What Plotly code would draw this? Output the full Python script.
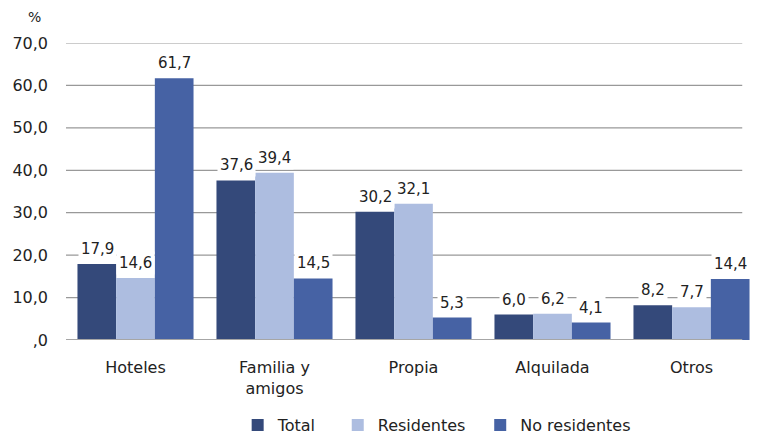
import plotly.graph_objects as go

# data
categorias = ["Hoteles", "Familia y<br>amigos", "Propia", "Alquilada", "Otros"]
total = [17.9, 37.6, 30.2, 6.0, 8.2]
residentes = [14.6, 39.4, 32.1, 6.2, 7.7]
no_residentes = [61.7, 14.5, 5.3, 4.1, 14.4]
y_ticks = [0, 10, 20, 30, 40, 50, 60, 70]
y_ticktext = [",0", "10,0", "20,0", "30,0", "40,0", "50,0", "60,0", "70,0"]

COLORS = {
    'Total': '#34497a',
    'Residentes': '#adbde0',
    'No residentes': '#4662a4',
}
FONT = "DejaVu Sans"

series = [("Total", total), ("Residentes", residentes), ("No residentes", no_residentes)]
legend_ids = ["legend2", "legend3", "legend4"]
legend_x = [0.247, 0.391, 0.596]

fig = go.Figure()
for (name, vals), lg in zip(series, legend_ids):
    fig.add_trace(go.Bar(
        x=categorias, y=vals, name=name, legend=lg, showlegend=True,
        marker=dict(color=COLORS[name], line=dict(width=0)),
    ))

# labels with white boxes, like the original
annots = []
bar_px = 38.5
for i, (name, vals) in enumerate(series):
    shift = (i - 1) * bar_px
    for cat, v in zip(categorias, vals):
        annots.append(dict(
            x=cat, y=v, xref="x", yref="y", xshift=shift, yshift=3,
            text=f"{v:.1f}".replace(".", ","), showarrow=False,
            yanchor="bottom", bgcolor="white", borderpad=2,
            font=dict(family=FONT, size=15, color="#222222"),
        ))
annots.append(dict(
    x=-0.045, y=1.0875, xref="paper", yref="paper", text="%", showarrow=False,
    xanchor="center", yanchor="middle",
    font=dict(family=FONT, size=14, color="#222222"),
))

# gridlines stop short of the right edge
grid = []
for t in y_ticks[1:]:
    grid.append(dict(type="line", xref="paper", yref="y", x0=0, x1=0.973, y0=t, y1=t,
                     line=dict(color="#999999", width=1.2), layer="below"))
grid.append(dict(type="line", xref="paper", yref="y", x0=0, x1=0.973, y0=0, y1=0,
                 line=dict(color="#a6a6a6", width=2), layer="above"))

leg_style = dict(orientation="h", xanchor="left", yref="container", y=0.028,
                 yanchor="middle", font=dict(family=FONT, size=16), itemwidth=30)

fig.update_layout(
    width=755, height=429,
    margin=dict(l=58, r=2, t=35, b=97),
    barmode="group", bargap=0.165, bargroupgap=0,
    showlegend=True,
    plot_bgcolor="white", paper_bgcolor="white",
    font=dict(family=FONT, size=16, color="#222222"),
    xaxis=dict(showgrid=False, showline=False, ticks="", range=[-0.5, 4.5],
               ticklabelstandoff=16, tickfont=dict(family=FONT, size=16)),
    yaxis=dict(range=[0, 70], tickvals=y_ticks, ticktext=y_ticktext, showgrid=False,
               zeroline=False, showline=False, ticks="", ticklabelstandoff=17,
               tickfont=dict(family=FONT, size=16)),
    shapes=grid,
    annotations=annots,
    legend2=dict(x=legend_x[0], **leg_style),
    legend3=dict(x=legend_x[1], **leg_style),
    legend4=dict(x=legend_x[2], **leg_style),
)

fig.write_html("out.html")
